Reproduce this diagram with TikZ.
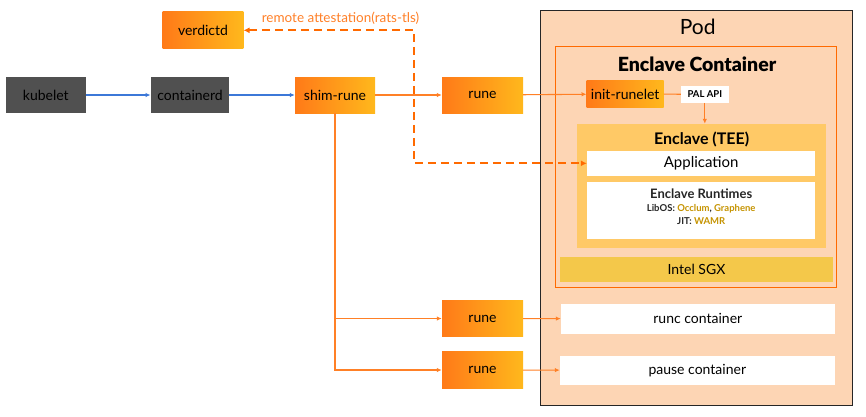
\documentclass[tikz,border=0pt]{standalone}
\usepackage{fontspec}
\setmainfont{Lato}
\newfontfamily\latoblack{Lato Black}
\usetikzlibrary{arrows.meta}
\definecolor{org}{HTML}{FF6A00}
\definecolor{orgL}{HTML}{FF7A18}
\definecolor{yel}{HTML}{FFB81C}
\definecolor{gry}{HTML}{505050}
\definecolor{blu}{HTML}{3C78D8}
\definecolor{peach}{HTML}{FDD5B4}
\definecolor{tee}{HTML}{FFC966}
\definecolor{sgx}{HTML}{F4C84A}
\definecolor{gold}{HTML}{C59300}
\definecolor{lbl}{HTML}{FF7F27}
\tikzset{
  box/.style={rectangle, inner sep=0pt, font=\fontsize{14}{16}\selectfont, text=black},
  grad/.style={box, left color=orgL, middle color=org, right color=yel},
  darkbox/.style={box, fill=gry, text=black},
  whitebox/.style={box, fill=white},
  bluarrow/.style={draw=blu, line width=1.1pt, -{Latex[length=5pt,width=4.5pt]}},
  orarrow/.style={draw=org!85!white, line width=1.1pt, -{Latex[length=5pt,width=4.5pt]}},
  orline/.style={draw=org!85!white, line width=1.1pt},
  dashline/.style={draw=org, line width=2.2pt, dash pattern=on 8pt off 5pt, {Latex[length=6pt,width=6pt]}-{Latex[length=6pt,width=6pt]}},
}
\begin{document}
\begin{tikzpicture}[x=1pt,y=-1pt]
\useasboundingbox (0,0) rectangle (866,416);
% Pod
\node[rectangle, draw=black!85, line width=0.9pt, fill=peach, minimum width=312.7pt, minimum height=395pt, inner sep=0pt] (pod) at (696.3,207.5) {};
\node[font=\fontsize{21}{24}\selectfont, inner sep=0pt] (podlbl) at (697.7,27) {Pod};
% Enclave container
\node[rectangle, draw=org, line width=1.2pt, minimum width=281pt, minimum height=241pt, inner sep=0pt] (ec) at (696.2,167.2) {};
\node[font=\latoblack\fontsize{19.5}{22}\selectfont, inner sep=0pt] (eclbl) at (697,64) {Enclave Container};
\node[grad, minimum width=77pt, minimum height=27.4pt] (init) at (625.2,94) {init-runelet};
\node[whitebox, font=\bfseries\fontsize{9.5}{10}\selectfont, minimum width=47.7pt, minimum height=16.7pt] (pal) at (704.8,94.3) {PAL API};
\node[box, fill=tee, minimum width=249.3pt, minimum height=123.7pt] (tee) at (701.3,185.8) {};
\node[font=\bfseries\fontsize{16}{18}\selectfont, inner sep=0pt] (teelbl) at (701.7,139) {Enclave (TEE)};
\node[whitebox, minimum width=228.3pt, minimum height=24.7pt, font=\fontsize{15}{16}\selectfont] (app) at (701.2,163.3) {Application};
\node[whitebox, minimum width=228.3pt, minimum height=56.7pt] (rt) at (701.2,210.3) {};
\node[font=\bfseries\fontsize{13}{14}\selectfont, inner sep=0pt, text=black!85] (rtlbl) at (701.2,193.3) {Enclave Runtimes};
\node[font=\bfseries\fontsize{9.5}{10}\selectfont, inner sep=0pt, text=black!85] (libos) at (701.2,209) {LibOS: \textcolor{gold}{Occlum}, \textcolor{gold}{Graphene}};
\node[font=\bfseries\fontsize{9.5}{10}\selectfont, inner sep=0pt, text=black!85] (jit) at (701.2,221.5) {JIT: \textcolor{gold}{WAMR}};
\node[box, fill=sgx, minimum width=273pt, minimum height=25.3pt] (sgx) at (696.5,269.3) {Intel SGX};
% other containers
\node[whitebox, minimum width=273.6pt, minimum height=29.7pt] (runc) at (697.8,318.8) {runc container};
\node[whitebox, minimum width=274.6pt, minimum height=28.7pt] (pause) at (697.3,370.3) {pause container};
% left chain
\node[darkbox, minimum width=80pt, minimum height=36pt] (kubelet) at (45.8,95) {kubelet};
\node[darkbox, minimum width=78.5pt, minimum height=36pt] (containerd) at (190,95) {containerd};
\node[grad, minimum width=80pt, minimum height=36pt] (shim) at (335,95) {shim-rune};
\node[grad, minimum width=81pt, minimum height=36pt] (rune) at (482.5,95) {rune};
\node[grad, minimum width=80.6pt, minimum height=36.7pt] (verdictd) at (203,30.3) {verdictd};
\node[grad, minimum width=81pt, minimum height=36.4pt] (rune2) at (482.5,318.5) {rune};
\node[grad, minimum width=81pt, minimum height=36.4pt] (rune3) at (482.5,370) {rune};
% connectors
\draw[bluarrow] (kubelet) -- (containerd);
\draw[bluarrow] (containerd) -- (shim);
\draw[orarrow] (shim) -- (rune);
\draw[orarrow] (rune) -- (init);
\draw[orline] (init) -- (pal);
\draw[orarrow] (pal) -- (pal |- tee.north);
\draw[orarrow] (shim.south) |- (rune3.west);
\draw[orarrow] (shim.south |- rune2.west) -- (rune2.west);
\draw[orarrow] (rune2) -- (runc);
\draw[orarrow] (rune3) -- (pause);
\coordinate (dv) at (414.3,30.3);
\draw[dashline] (verdictd.east) -- (dv) |- (app.west);
\node[font=\fontsize{13.5}{14}\selectfont, text=lbl, inner sep=0pt] (rlbl) at (340.5,18) {remote attestation(rats-tls)};
\end{tikzpicture}
\end{document}
